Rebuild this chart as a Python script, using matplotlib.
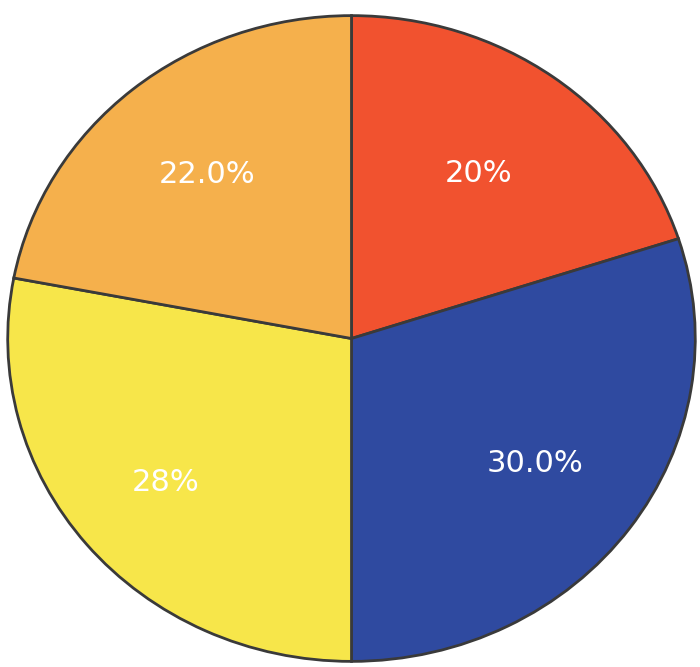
import numpy as np
import matplotlib.pyplot as plt

# slice data, clockwise from 12 o'clock
shares = [20, 30, 28, 22]
labels = ["20%", "30.0%", "28%", "22.0%"]
colors = ["#f1522f", "#2f4aa0", "#f7e64a", "#f5b04c"]

fig = plt.figure(figsize=(7, 6.67), dpi=100)
fig.patch.set_facecolor("white")
# axes box matches the (slightly oval) outline of the scanned pie
ax = fig.add_axes([6 / 700, 4 / 667, 691 / 700, 649 / 667])

wedges, _ = ax.pie(
    shares,
    colors=colors,
    startangle=90,
    counterclock=False,
    radius=1.0,
    wedgeprops=dict(edgecolor="#3a3a3a", linewidth=2.0),
)

# white percentage labels inside each slice
label_dist = [0.63, 0.66, 0.70, 0.66]
for w, text, d in zip(wedges, labels, label_dist):
    mid = np.deg2rad((w.theta1 + w.theta2) / 2)
    ax.text(d * np.cos(mid), d * np.sin(mid), text,
            ha="center", va="center", color="white", fontsize=22)

ax.set_aspect("auto")
ax.set_xlim(-1.005, 1.005)
ax.set_ylim(-1.005, 1.005)
ax.axis("off")

fig.savefig("out.png", dpi=100, facecolor="white")
